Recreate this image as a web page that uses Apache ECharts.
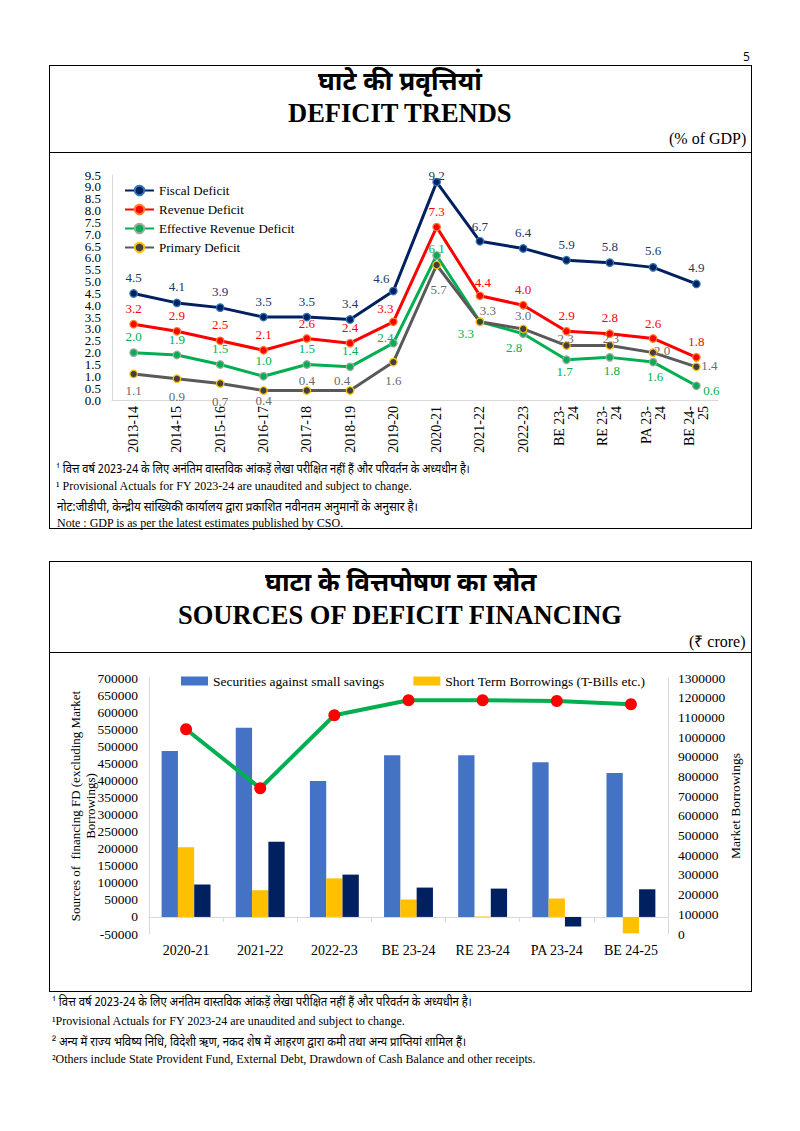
<!DOCTYPE html>
<html>
<head>
<meta charset="utf-8">
<script src="https://cdn.jsdelivr.net/npm/echarts@6/dist/echarts.min.js"></script>
<style>
html,body{margin:0;padding:0;background:#fff;}
#page{position:relative;width:800px;height:1131px;overflow:hidden;background:#fff;}
#chart{position:absolute;left:0;top:0;width:800px;height:1131px;}
#layer{position:absolute;left:0;top:0;width:800px;height:1131px;pointer-events:none;}
.box{position:absolute;border:1.5px solid #000;box-sizing:border-box;}
.hl{position:absolute;height:0;border-top:1.5px solid #000;}
</style>
</head>
<body>
<div id="page">
  <div id="chart"></div>
  <div id="layer">
    <div class="box" style="left:49px;top:65px;width:703px;height:464px"></div>
    <div class="hl" style="left:49px;top:152px;width:703px"></div>
    <div class="box" style="left:49px;top:561px;width:703px;height:431px"></div>
    <div class="hl" style="left:49px;top:652px;width:703px"></div>
  </div>
</div>
<script>
// ---------- DATA ----------
const years = ["2013-14","2014-15","2015-16","2016-17","2017-18","2018-19","2019-20","2020-21","2021-22","2022-23","BE 23-\n24","RE 23-\n24","PA 23-\n24","BE 24-\n25"];
const fiscalDeficit            = [4.5,4.1,3.9,3.5,3.5,3.4,4.6,9.2,6.7,6.4,5.9,5.8,5.6,4.9];
const revenueDeficit           = [3.2,2.9,2.5,2.1,2.6,2.4,3.3,7.3,4.4,4.0,2.9,2.8,2.6,1.8];
const effectiveRevenueDeficit  = [2.0,1.9,1.5,1.0,1.5,1.4,2.4,6.1,3.3,2.8,1.7,1.8,1.6,0.6];
const primaryDeficit           = [1.1,0.9,0.7,0.4,0.4,0.4,1.6,5.7,3.3,3.0,2.3,2.3,2.0,1.4];
const pctTickLabels = ["0.0","0.5","1.0","1.5","2.0","2.5","3.0","3.5","4.0","4.5","5.0","5.5","6.0","6.5","7.0","7.5","8.0","8.5","9.0","9.5"];

const finYears = ["2020-21","2021-22","2022-23","BE 23-24","RE 23-24","PA 23-24","BE 24-25"];
const securitiesSmallSavings = [486000,554000,398000,474000,474000,453000,422000];
const shortTermBorrowings    = [204000,78000,113000,51000,1500,54000,-48000];
const otherSources           = [95000,220000,124000,86000,83000,-28000,81000];
const marketBorrowings       = [1040000,740000,1111000,1187000,1187000,1183000,1167000];

// ---------- STYLE (label offsets from point centre, px) ----------
const offFiscal = [[0,-16],[0,-16],[0,-16],[0,-16],[0,-16],[0,-16],[-12,-13],[0,-7],[0,-15],[0,-16],[0,-16],[0,-16],[0,-17],[0,-16]];
const offRevenue = [[0,-16],[0,-16],[0,-16],[0,-16],[0,-15],[0,-16],[-8,-13],[0,-16],[3,-13],[0,-16],[0,-16],[0,-16],[0,-15],[0,-16]];
const offEffective = [[0,-16],[0,-16],[0,-16],[0,-16],[0,-16],[0,-16],[-8,-6],[0,-7],[-14,12],[-9,14],[-2,12],[2,13],[2,14],[15,5]];
const offPrimary = [[0,17],[0,18],[0,18],[0,10],[0,-10],[-8,-10],[0,18],[2,24],[8,-11],[0,-13],[-1,-7],[1,-7],[9,-2],[13,-1]];

const SERIF = '"Liberation Serif","Times New Roman",serif';
const HINDI = '"Noto Sans Devanagari","Lohit Devanagari","Noto Serif Devanagari","FreeSans","Noto Sans",sans-serif';

// ---------- TEXT ----------
const layer = document.getElementById('layer');
function T(txt, o){
  const el = document.createElement('div');
  el.textContent = txt;
  const lh = o.s*1.25;
  el.style.cssText = `position:absolute;white-space:nowrap;font-family:${o.f||SERIF};font-size:${o.s}px;font-weight:${o.b?'bold':'normal'};line-height:${lh}px;color:#000;`;
  layer.appendChild(el);
  const nat = el.offsetWidth;
  const k = o.w ? o.w/nat : 1;
  const w = nat*k;
  const left = o.a==='center' ? o.x-w/2 : (o.a==='right' ? o.x-w : o.x);
  el.style.left = left+'px';
  el.style.top = (o.y-lh/2)+'px';
  if(k!==1){ el.style.transformOrigin='0 50%'; el.style.transform=`scaleX(${k})`; }
}
T("5",{x:750,y:56,s:12,f:'"Open Sans",sans-serif',a:'right'});
T("घाटे की प्रवृत्तियां",{x:400,y:84,s:26,b:true,f:HINDI,a:'center',w:164});
T("DEFICIT TRENDS",{x:400,y:114,s:26.5,b:true,a:'center'});
T("(% of GDP)",{x:746,y:139,s:16,a:'right'});
T("¹ वित्त वर्ष 2023-24 के लिए अनंतिम वास्तविक आंकड़ें लेखा परीक्षित नहीं हैं और परिवर्तन के अध्यधीन है।",{x:56,y:470,s:12,f:HINDI,w:414});
T("¹ Provisional Actuals for FY 2023-24 are unaudited and subject to change.",{x:56,y:486,s:12});
T("नोट:जीडीपी, केन्द्रीय सांख्यिकी कार्यालय द्वारा प्रकाशित नवीनतम अनुमानों के अनुसार है।",{x:57,y:508,s:12,f:HINDI,w:361});
T("Note : GDP is as per the latest estimates published by CSO.",{x:57,y:523,s:12});

T("घाटा के वित्तपोषण का स्रोत",{x:400,y:585,s:26,b:true,f:HINDI,a:'center',w:271});
T("SOURCES OF DEFICIT FINANCING",{x:400,y:616,s:26.5,b:true,a:'center'});
T("(₹ crore)",{x:746,y:642,s:16,a:'right'});
T("¹ वित्त वर्ष 2023-24 के लिए अनंतिम वास्तविक आंकड़ें लेखा परीक्षित नहीं हैं और परिवर्तन के अध्यधीन है।",{x:52,y:1003,s:12,f:HINDI,w:420});
T("¹Provisional Actuals for FY 2023-24 are unaudited and subject to change.",{x:52,y:1021,s:12});
T("² अन्य में राज्य भविष्य निधि, विदेशी ऋण, नकद शेष में आहरण द्वारा कमी तथा अन्य प्राप्तियां शामिल हैं।",{x:52,y:1043,s:12,f:HINDI,w:414});
T("²Others include State Provident Fund, External Debt, Drawdown of Cash Balance and other receipts.",{x:52,y:1059,s:12});

// ---------- CHART ----------
const chart = echarts.init(document.getElementById('chart'), null, {renderer:'svg', width:800, height:1131});
const AX = '#d9d9d9';
function pts(vals, offs){ return vals.map((v,i)=>({value:v, label:{offset:offs[i]}})); }
function lineSeries(name, vals, offs, lineColor, fill, border, labelColor){
  return {
    name, type:'line', xAxisIndex:0, yAxisIndex:1, data: pts(vals, offs),
    symbol:'circle', symbolSize:7.5,
    lineStyle:{color:lineColor, width:3},
    itemStyle:{color:fill, borderColor:border, borderWidth:1.2},
    label:{show:true, position:'inside', fontFamily:SERIF, fontSize:13, color:labelColor,
           formatter:p=>Number(p.value).toFixed(1)},
    emphasis:{disabled:true}, z:3
  };
}
const plain = v => String(v);
const option = {
  animation:false,
  textStyle:{fontFamily:SERIF},
  grid:[
    {left:112, top:175, width:606, height:225},
    {left:149, top:678, width:519, height:256}
  ],
  legend:[
    {data:["Fiscal Deficit","Revenue Deficit","Effective Revenue Deficit","Primary Deficit"],
     orient:'vertical', left:119, top:179, itemWidth:29, itemHeight:12, itemGap:6,
     textStyle:{fontFamily:SERIF, fontSize:13, color:'#000'}},
    {data:["Securities against small savings","Short Term Borrowings (T-Bills etc.)"],
     orient:'horizontal', left:176, top:669, itemWidth:27, itemHeight:9, itemGap:29, icon:'rect',
     textStyle:{fontFamily:SERIF, fontSize:13.5, color:'#000'}}
  ],
  xAxis:[
    {type:'category', gridIndex:0, data:years, boundaryGap:true,
     axisLine:{onZero:false, lineStyle:{color:AX}}, axisTick:{show:false},
     axisLabel:{rotate:90, interval:0, margin:6, fontFamily:SERIF, fontSize:14, color:'#000', lineHeight:14}},
    {type:'category', gridIndex:1, data:finYears, boundaryGap:true,
     axisLine:{onZero:true, onZeroAxisIndex:2, lineStyle:{color:AX}},
     axisTick:{show:true, length:5, lineStyle:{color:AX}},
     axisLabel:{margin:9, interval:0, fontFamily:SERIF, fontSize:14, color:'#000'}}
  ],
  yAxis:[
    // tick labels of the % of GDP scale (same 0..9.5 step 0.5 grid as the value axis below)
    {type:'category', gridIndex:0, data:pctTickLabels, boundaryGap:false,
     axisLine:{show:true, lineStyle:{color:AX}}, axisTick:{show:false}, splitLine:{show:false},
     axisLabel:{interval:0, margin:11, fontFamily:SERIF, fontSize:13, lineHeight:11, color:'#000'}},
    {type:'value', gridIndex:0, min:0, max:9.5, show:false, splitLine:{show:false}},
    {type:'value', gridIndex:1, min:-50000, max:700000, interval:50000,
     name:"Sources of  financing FD (excluding Market\nBorrowings)", nameLocation:'middle', nameGap:51, nameRotate:90,
     nameMoveOverlap:false,
     nameTextStyle:{fontFamily:SERIF, fontSize:13, color:'#000', lineHeight:15},
     axisLine:{show:true, lineStyle:{color:AX}}, axisTick:{show:false}, splitLine:{show:false},
     axisLabel:{margin:11, fontFamily:SERIF, fontSize:13.5, lineHeight:13, color:'#000',
                showMinLabel:true, showMaxLabel:true, hideOverlap:false, formatter:plain}},
    {type:'value', gridIndex:1, position:'right', min:0, max:1300000, interval:100000,
     name:"Market Borrowings", nameLocation:'middle', nameGap:60, nameRotate:90,
     nameMoveOverlap:false,
     nameTextStyle:{fontFamily:SERIF, fontSize:13.5, color:'#000'},
     axisLine:{show:true, lineStyle:{color:AX}}, axisTick:{show:false}, splitLine:{show:false},
     axisLabel:{margin:10, fontFamily:SERIF, fontSize:13.5, color:'#000',
                showMinLabel:true, showMaxLabel:true, hideOverlap:false, formatter:plain}}
  ],
  series:[
    lineSeries("Fiscal Deficit", fiscalDeficit, offFiscal, '#002060', '#002060', '#2e75b6', '#203864'),
    lineSeries("Revenue Deficit", revenueDeficit, offRevenue, '#ff0000', '#ff0000', '#ff7f27', '#ff0000'),
    lineSeries("Effective Revenue Deficit", effectiveRevenueDeficit, offEffective, '#00b050', '#00b050', '#a5a5a5', '#00b050'),
    lineSeries("Primary Deficit", primaryDeficit, offPrimary, '#595959', '#404040', '#ffc000', '#6b6b6b'),
    {name:"Securities against small savings", type:'bar', xAxisIndex:1, yAxisIndex:2, data:securitiesSmallSavings,
     barWidth:16.3, barGap:'0%', itemStyle:{color:'#4472c4'}, emphasis:{disabled:true}},
    {name:"Short Term Borrowings (T-Bills etc.)", type:'bar', xAxisIndex:1, yAxisIndex:2, data:shortTermBorrowings,
     barWidth:16.3, barGap:'0%', itemStyle:{color:'#ffc000'}, emphasis:{disabled:true}},
    {name:"Others", type:'bar', xAxisIndex:1, yAxisIndex:2, data:otherSources,
     barWidth:16.3, barGap:'0%', itemStyle:{color:'#002060'}, emphasis:{disabled:true}},
    {name:"Market Borrowings", type:'line', xAxisIndex:1, yAxisIndex:3, data:marketBorrowings,
     symbol:'circle', symbolSize:12, lineStyle:{color:'#00b050', width:4},
     itemStyle:{color:'#ff0000'}, z:5, emphasis:{disabled:true}}
  ]
};
chart.setOption(option);
</script>
</body>
</html>
